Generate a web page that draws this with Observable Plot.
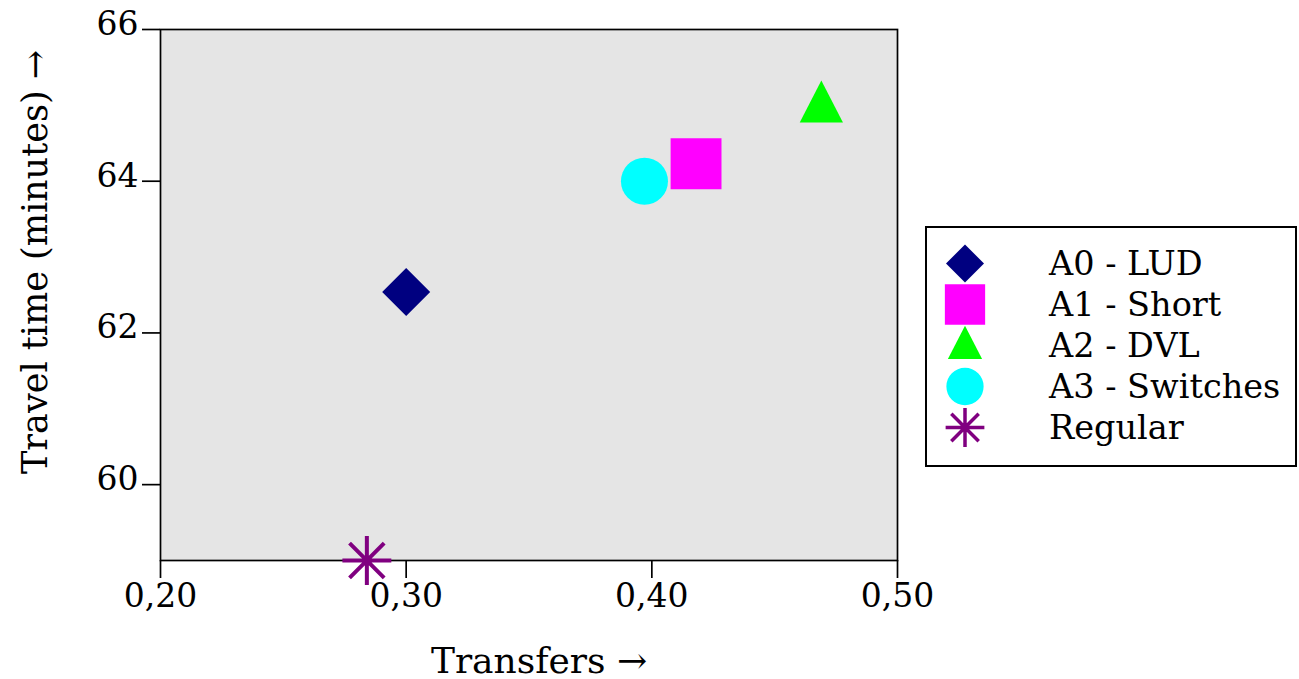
<!DOCTYPE html>
<html>
<head>
<meta charset="utf-8">
<script src="https://cdn.jsdelivr.net/npm/d3@7"></script>
<script src="https://cdn.jsdelivr.net/npm/@observablehq/plot@0.6"></script>
<style>
  html, body { margin: 0; padding: 0; background: #fff; }
  #wrap { position: relative; width: 1299px; height: 679px; font-family: "DejaVu Serif", serif; }
  #legend { position: absolute; left: 925px; top: 226px; width: 372px; height: 241px;
            border: 2px solid #000; background: #fff; padding-top: 15px; box-sizing: border-box; }
  .row { display: flex; align-items: center; height: 41px; }
  .row svg { width: 76px; height: 41px; flex: none; margin-left: 0; }
  .row span { margin-left: 46px; font-size: 33.5px; color: #000; white-space: nowrap; line-height: 41px; }
</style>
</head>
<body>
<div id="wrap"></div>
<script>
// ---- data ----
const series     = ["A0 - LUD", "A1 - Short", "A2 - DVL", "A3 - Switches", "Regular"];
const transfers  = [0.300, 0.418, 0.469, 0.397, 0.284];
const travelTime = [62.54, 64.23, 65.0, 64.0, 59.0];
const colors     = ["#000080", "#ff00ff", "#00ff00", "#00ffff", "#800080"];
const xTicks     = [0.20, 0.30, 0.40, 0.50];
const yTicks     = [60, 62, 64, 66];
const xLabel     = "Transfers \u2192";
const yLabel     = "Travel time (minutes) \u2192";

// ---- custom symbols (shapes) ----
const rad = size => Math.sqrt(size / Math.PI);
const symDiamond = {draw(c, s) { const r = rad(s); c.moveTo(0, -r); c.lineTo(r, 0); c.lineTo(0, r); c.lineTo(-r, 0); c.closePath(); }};
const symSquare  = {draw(c, s) { const h = rad(s) * 1.06; c.rect(-h, -h, 2 * h, 2 * h); }};
const symTri     = {draw(c, s) { const r = rad(s); c.moveTo(0, -1.04 * r); c.lineTo(0.9 * r, 0.71 * r); c.lineTo(-0.9 * r, 0.71 * r); c.closePath(); }};
const symCircle  = {draw(c, s) { const r = rad(s) * 0.98; c.moveTo(r, 0); c.arc(0, 0, r, 0, 2 * Math.PI); }};
const symStar    = {draw(c, s) { const r = rad(s) * 1.02, d = r * Math.SQRT1_2;
  c.moveTo(-r, 0); c.lineTo(r, 0); c.moveTo(0, -r); c.lineTo(0, r);
  c.moveTo(-d, -d); c.lineTo(d, d); c.moveTo(-d, d); c.lineTo(d, -d); }};
const symbols = [symDiamond, symSquare, symTri, symCircle, symStar];
const filled  = [true, true, true, true, false];

const data = series.map((s, i) => ({series: s, x: transfers[i], y: travelTime[i], i}));

const dotMarks = data.map(d => filled[d.i]
  ? Plot.dot([d], {x: "x", y: "y", r: 24, symbol: symbols[d.i], fill: colors[d.i], stroke: "none"})
  : Plot.dot([d], {x: "x", y: "y", r: 24, symbol: symbols[d.i], fill: "none", stroke: colors[d.i], strokeWidth: 4}));

const plot = Plot.plot({
  width: 1299,
  height: 679,
  marginLeft: 160,
  marginRight: 402,
  marginTop: 29,
  marginBottom: 119,
  style: {fontFamily: "DejaVu Serif", fontSize: "33px", background: "#fff", color: "#000"},
  x: {domain: [0.20, 0.50]},
  y: {domain: [59, 66]},
  marks: [
    Plot.frame({fill: "#e5e5e5", stroke: "none"}),
    Plot.frame({stroke: "#000", strokeWidth: 1.7}),
    Plot.axisX({ticks: xTicks, tickSize: 18, tickPadding: 5, strokeWidth: 1.7, fontSize: 33,
                tickFormat: d => d.toFixed(2).replace(".", ","), label: null}),
    Plot.axisY({ticks: yTicks, tickSize: 18, strokeWidth: 1.7, tickFormat: () => "", label: null}),
    Plot.axisY({ticks: yTicks, tickSize: 0, tickPadding: 22, fontSize: 33, dy: -5,
                tickFormat: d => String(d), label: null}),
    Plot.text([xLabel], {frameAnchor: "bottom", dy: 112, dx: 10, fontSize: 36, fill: "#000"}),
    Plot.text([yLabel], {frameAnchor: "left", textAnchor: "middle", dx: -125, dy: -33, rotate: -90, fontSize: 35, fill: "#000"}),
    ...dotMarks
  ]
});

const wrap = document.getElementById("wrap");
wrap.appendChild(plot);

// ---- legend ----
const legend = document.createElement("div");
legend.id = "legend";
series.forEach((s, i) => {
  const row = document.createElement("div");
  row.className = "row";
  const svg = d3.create("svg").attr("viewBox", "0 0 76 41");
  const lr = 19;
  svg.append("path")
    .attr("transform", "translate(38,20.5)")
    .attr("d", d3.symbol(symbols[i], lr * lr * Math.PI)())
    .attr("fill", filled[i] ? colors[i] : "none")
    .attr("stroke", filled[i] ? "none" : colors[i])
    .attr("stroke-width", filled[i] ? 0 : 3.5);
  row.appendChild(svg.node());
  const t = document.createElement("span");
  t.textContent = s;
  row.appendChild(t);
  legend.appendChild(row);
});
wrap.appendChild(legend);
</script>
</body>
</html>
